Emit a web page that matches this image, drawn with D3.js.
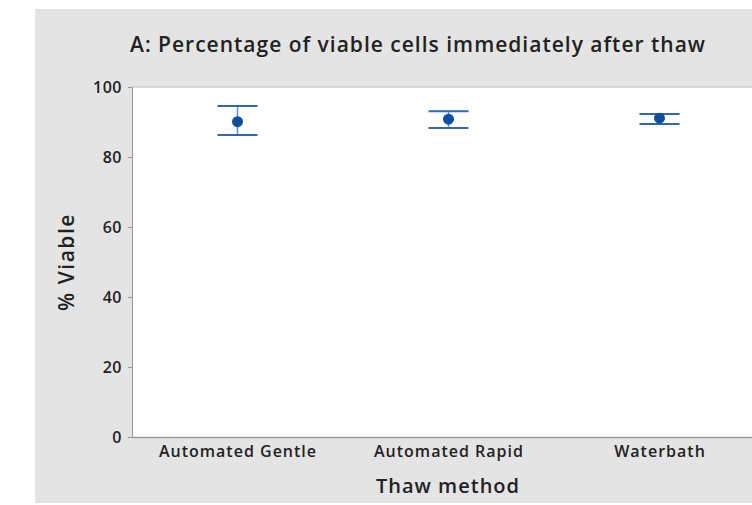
<!DOCTYPE html>
<html>
<head>
<meta charset="utf-8">
<script src="https://cdn.jsdelivr.net/npm/d3@7"></script>
<style>
  body { margin: 0; background: #fff; }
  text { font-family: "Open Sans", "Noto Sans", sans-serif; fill: #222; }
</style>
</head>
<body>
<svg id="chart" width="752" height="505"></svg>
<script>
// Data
const methods = ['Automated Gentle', 'Automated Rapid', 'Waterbath'];
const means = [90.1, 90.8, 91.1];
const upper = [94.6, 93.1, 92.3];
const lower = [86.3, 88.3, 89.4];
const yTicks = [0, 20, 40, 60, 80, 100];

const svg = d3.select('#chart');

// Grey panel
svg.append('rect')
  .attr('x', 35).attr('y', 9).attr('width', 717).attr('height', 494)
  .attr('fill', '#e4e4e4');

const plotLeft = 132, plotTop = 87, plotBottom = 437;
const x = d3.scalePoint().domain(methods).range([plotLeft, 765]).padding(0.5);
const y = d3.scaleLinear().domain([0, 100]).range([plotBottom, plotTop]);

// Plot area
svg.append('rect')
  .attr('x', plotLeft).attr('y', plotTop).attr('width', 752 - plotLeft).attr('height', plotBottom - plotTop)
  .attr('fill', '#fff');
svg.append('line')
  .attr('x1', plotLeft).attr('x2', 752).attr('y1', plotTop).attr('y2', plotTop)
  .attr('stroke', '#cfcfcf').attr('stroke-width', 1.5);

// Axes
const yAxis = svg.append('g')
  .attr('transform', `translate(${plotLeft},0)`)
  .call(d3.axisLeft(y).tickValues(yTicks).tickSize(4).tickPadding(6));
yAxis.select('.domain').attr('stroke', '#9a9a9a');
yAxis.selectAll('.tick line').attr('stroke', '#9a9a9a');
yAxis.selectAll('text').attr('font-size', 16).attr('font-weight', 600)
  .attr('letter-spacing', 0.5).attr('fill', '#333');

const xAxis = svg.append('g')
  .attr('transform', `translate(0,${plotBottom})`)
  .call(d3.axisBottom(x).tickSize(0).tickPadding(9));
xAxis.select('.domain').attr('stroke', '#9a9a9a').attr('stroke-width', 1.5);
xAxis.selectAll('text').attr('font-size', 16).attr('font-weight', 600)
  .attr('letter-spacing', 1).attr('fill', '#333');

// Error bars
const g = svg.append('g');
methods.forEach((m, i) => {
  const cx = x(m);
  g.append('line')
    .attr('x1', cx).attr('x2', cx).attr('y1', y(upper[i])).attr('y2', y(lower[i]))
    .attr('stroke', '#5b8fd0').attr('stroke-width', 1.5);
  [upper[i], lower[i]].forEach(v => {
    g.append('line')
      .attr('x1', cx - 20).attr('x2', cx + 20).attr('y1', y(v)).attr('y2', y(v))
      .attr('stroke', '#2f67b0').attr('stroke-width', 2);
  });
  g.append('circle')
    .attr('cx', cx).attr('cy', y(means[i])).attr('r', 5.5)
    .attr('fill', '#0d4f9e');
});

// Titles
svg.append('text')
  .attr('x', 418).attr('y', 52).attr('text-anchor', 'middle')
  .attr('font-size', 21).attr('font-weight', 600).attr('letter-spacing', 1)
  .text('A: Percentage of viable cells immediately after thaw');
svg.append('text')
  .attr('x', 448).attr('y', 493).attr('text-anchor', 'middle')
  .attr('font-size', 20).attr('font-weight', 600).attr('letter-spacing', 1)
  .text('Thaw method');
svg.append('text')
  .attr('transform', 'translate(74,262) rotate(-90)').attr('text-anchor', 'middle')
  .attr('font-size', 21).attr('font-weight', 600).attr('letter-spacing', 1.5)
  .text('% Viable');
</script>
</body>
</html>
